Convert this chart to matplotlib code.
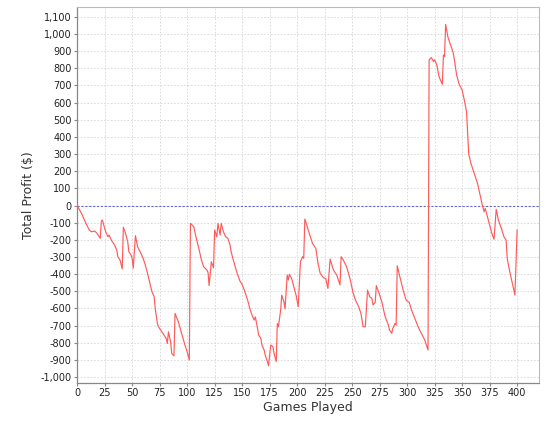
import matplotlib
matplotlib.use('Agg')
import matplotlib.pyplot as plt
from matplotlib.ticker import FuncFormatter

# =============================================================================
# Data (game number, running profit in $)
# =============================================================================
games = [0, 4, 8, 11, 13, 16, 18, 20, 21, 22, 23, 25, 26, 28, 29, 31, 34, 36,
         37, 39, 41, 42, 44, 46, 47, 49, 50, 51, 53, 55, 58, 60, 62, 64, 66,
         68, 70, 71, 73, 74, 76, 78, 81, 82, 83, 85, 86, 88, 89, 92, 95, 98,
         100, 102, 103, 106, 108, 111, 113, 115, 118, 119, 120, 122, 124, 125,
         127, 128, 130, 131, 133, 135, 137, 139, 140, 142, 145, 148, 150, 152,
         155, 157, 159, 161, 162, 164, 165, 167, 168, 170, 171, 173, 174, 176,
         178, 179, 181, 182, 183, 185, 186, 188, 189, 191, 192, 193, 195, 197,
         199, 201, 203, 205, 206, 207, 208, 211, 214, 217, 219, 221, 224, 226,
         228, 230, 233, 236, 239, 240, 242, 245, 248, 251, 253, 256, 258, 260,
         262, 264, 266, 268, 269, 271, 272, 274, 277, 280, 283, 284, 286, 287,
         289, 290, 291, 293, 296, 299, 302, 304, 307, 310, 313, 316, 318, 319,
         320, 322, 324, 325, 327, 329, 331, 332, 333, 334, 335, 337, 340, 342,
         343, 345, 347, 350, 352, 354, 356, 358, 361, 364, 366, 368, 370, 371,
         373, 375, 377, 379, 381, 383, 386, 388, 390, 391, 393, 395, 396, 398,
         400]
profit = [0, -46, -104, -143, -153, -149, -162, -182, -191, -90, -85, -133,
          -153, -182, -172, -201, -230, -260, -298, -318, -370, -127, -162,
          -211, -269, -289, -308, -366, -176, -240, -279, -308, -347, -396,
          -448, -502, -530, -600, -690, -707, -726, -745, -775, -804, -736,
          -794, -862, -876, -629, -677, -745, -813, -852, -901, -104, -123,
          -182, -260, -318, -357, -376, -390, -467, -328, -363, -143, -182,
          -104, -172, -104, -153, -182, -191, -230, -269, -318, -386, -440,
          -460, -493, -551, -600, -639, -668, -649, -716, -755, -775, -813,
          -842, -872, -910, -934, -813, -823, -862, -910, -688, -707, -610,
          -522, -561, -603, -405, -434, -401, -425, -473, -522, -590, -328,
          -298, -308, -79, -98, -162, -221, -250, -337, -396, -421, -425,
          -483, -312, -376, -405, -463, -298, -318, -357, -425, -512, -551,
          -590, -629, -707, -707, -493, -532, -541, -580, -564, -467, -502,
          -561, -648, -697, -726, -745, -716, -687, -697, -351, -405, -483,
          -551, -565, -609, -658, -707, -745, -784, -823, -842, 849, 862, 839,
          849, 819, 751, 722, 706, 877, 868, 1056, 984, 927, 888, 848, 761,
          712, 673, 615, 547, 300, 246, 188, 129, 71, 13, -36, -17, -65, -114,
          -162, -197, -22, -85, -139, -182, -201, -308, -376, -434, -464,
          -522, -143]

x_ticks = list(range(0, 401, 25))
y_ticks = list(range(-1000, 1101, 100))

# =============================================================================
# Plot
# =============================================================================
fig = plt.figure(figsize=(5.49, 4.22), dpi=100)
ax = fig.add_axes([0.1405, 0.093, 0.8415, 0.890])

ax.plot(games, profit, color='#ff5a5a', lw=0.85, zorder=3)
ax.axhline(0, color='#6a6acd', lw=0.8, ls=(0, (2, 1.5)), zorder=2)

ax.set_xlim(0, 420)
ax.set_ylim(-1033, 1156)
ax.set_xticks(x_ticks)
ax.set_yticks(y_ticks)
ax.yaxis.set_major_formatter(FuncFormatter(lambda v, p: f'{int(v):,}'))

ax.grid(True, color='#d6d6d6', lw=0.6, ls=(0, (2, 2)))
ax.set_axisbelow(True)

for side in ['top', 'right']:
    ax.spines[side].set_color('#bbbbbb')
    ax.spines[side].set_linewidth(0.8)
for side in ['left', 'bottom']:
    ax.spines[side].set_color('#888888')
    ax.spines[side].set_linewidth(0.9)

ax.tick_params(axis='both', labelsize=7, length=2, width=0.8, color='#888888',
               pad=2, labelcolor='#222222')

ax.set_xlabel('Games Played', fontsize=9, labelpad=2, color='#333333')
ax.set_ylabel('Total Profit ($)', fontsize=9, labelpad=4, color='#333333')

plt.savefig('out.png', dpi=100)
